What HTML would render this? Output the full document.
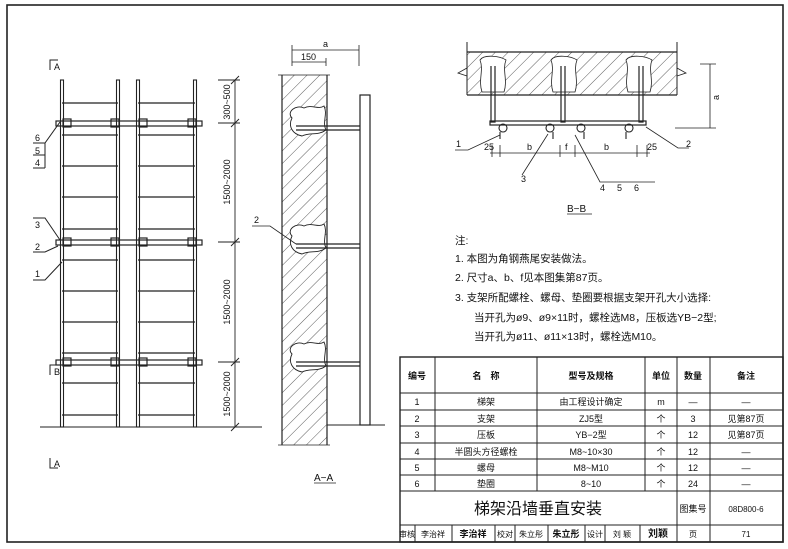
<!DOCTYPE html>
<html><head><meta charset="utf-8"><style>
html,body{margin:0;padding:0;background:#fff;}
svg{display:block;}
text{font-family:"Liberation Sans","Noto Sans CJK SC",sans-serif;fill:#111;}
</style></head><body>
<svg width="788" height="549" viewBox="0 0 788 549" xmlns="http://www.w3.org/2000/svg">
<defs>
<pattern id="h" width="9" height="9" patternUnits="userSpaceOnUse" patternTransform="rotate(45)">
<line x1="0" y1="0" x2="0" y2="9" stroke="#333" stroke-width="0.8"/>
</pattern>
</defs>
<rect x="7" y="5" width="776" height="537" fill="none" stroke="#222" stroke-width="1.6"/>

<!-- Left elevation -->
<g stroke="#222" fill="none">
<g stroke-width="1.1">
<rect x="60.5" y="80" width="3" height="347"/><rect x="116.5" y="80" width="3" height="347"/>
<rect x="136.5" y="80" width="3" height="347"/><rect x="193.5" y="80" width="3" height="347"/>
</g>
<g stroke-width="1.3">
<path d="M62 103H118M62 135H118M62 166H118M62 197H118M62 229H118M62 260H118M62 291H118M62 322H118M62 353H118M62 383H118M62 415H118"/>
<path d="M138 103H195M138 135H195M138 166H195M138 197H195M138 229H195M138 260H195M138 291H195M138 322H195M138 353H195M138 383H195M138 415H195"/>
</g>
<g stroke-width="1.2">
<rect x="56" y="121" width="146" height="5"/><rect x="56" y="240" width="146" height="5"/><rect x="56" y="360" width="146" height="5"/>
<rect x="63" y="119" width="8" height="8"/><rect x="111" y="119" width="8" height="8"/><rect x="139" y="119" width="8" height="8"/><rect x="188" y="119" width="8" height="8"/>
<rect x="63" y="238" width="8" height="8"/><rect x="111" y="238" width="8" height="8"/><rect x="139" y="238" width="8" height="8"/><rect x="188" y="238" width="8" height="8"/>
<rect x="63" y="358" width="8" height="8"/><rect x="111" y="358" width="8" height="8"/><rect x="139" y="358" width="8" height="8"/><rect x="188" y="358" width="8" height="8"/>
</g>
<line x1="40" y1="427" x2="262" y2="427" stroke-width="1"/>
<g stroke-width="0.9">
<line x1="235" y1="80" x2="235" y2="427"/>
<path d="M218 80H240M218 123H240M218 242H240M218 362H240M218 427H240"/>
<path d="M231 84L239 76M231 127L239 119M231 246L239 238M231 366L239 358M231 431L239 423"/>
</g>
<g stroke-width="1">
<path d="M50 70V60H58M50 375V365H58M50 458V468H58"/>
<path d="M33 143H45L60 122M33 155H45M33 168H45M45 143V168"/>
<path d="M33 218H45L60 240M33 252H45L58 246M33 280H45L62 262"/>
</g>
</g>
<g font-size="9">
<text x="54" y="70">A</text><text x="54" y="375">B</text><text x="54" y="467">A</text>
<text x="35" y="141">6</text><text x="35" y="154">5</text><text x="35" y="166">4</text>
<text x="35" y="228">3</text><text x="35" y="250">2</text><text x="35" y="277">1</text>
<text transform="translate(230,102) rotate(-90)" text-anchor="middle">300~500</text>
<text transform="translate(230,182) rotate(-90)" text-anchor="middle">1500~2000</text>
<text transform="translate(230,302) rotate(-90)" text-anchor="middle">1500~2000</text>
<text transform="translate(230,394) rotate(-90)" text-anchor="middle">1500~2000</text>
</g>

<!-- A-A section -->
<g stroke="#222" fill="none">
<rect x="282" y="75" width="45" height="370" fill="url(#h)" stroke="none"/>
<line x1="282" y1="75" x2="282" y2="445" stroke-width="1.2"/><line x1="327" y1="75" x2="327" y2="445" stroke-width="1.2"/>
<path d="M278 75H330M278 445H330" stroke-width="0.8"/>
<g fill="#fff" stroke-width="0.9">
<path d="M292 118C286 112 296 104 304 108C312 104 318 110 324 106C328 114 322 122 326 130C318 136 310 132 302 136C292 134 288 126 292 118Z"/>
<path d="M292 236C286 230 296 222 304 226C312 222 318 228 324 224C328 232 322 240 326 248C318 254 310 250 302 254C292 252 288 244 292 236Z"/>
<path d="M292 354C286 348 296 340 304 344C312 340 318 346 324 342C328 350 322 358 326 366C318 372 310 368 302 372C292 370 288 362 292 354Z"/>
</g>
<rect x="360" y="95" width="10" height="330" stroke-width="1.2"/>
<g stroke-width="1.3"><path d="M296 126H360M296 130H360M296 244H360M296 248H360M296 362H360M296 366H360"/></g>
<path d="M327 425H385" stroke-width="0.9"/>
<g stroke-width="0.8">
<path d="M292 45V66M359 45V66M292 50H359M326 58V66M292 62H326"/>
<path d="M252 226H270L296 244"/>
<path d="M314 483H336"/>
</g>
</g>
<g font-size="9">
<text x="323" y="47">a</text><text x="301" y="60">150</text><text x="254" y="223">2</text>
<text x="314" y="481" font-size="10">A−A</text>
</g>

<!-- B-B section -->
<g stroke="#222" fill="none">
<rect x="467" y="52" width="210" height="43" fill="url(#h)" stroke="none"/>
<path d="M467 42V95M677 42V95" stroke-width="1"/>
<path d="M467 52H677M467 95H677" stroke-width="1.2"/>
<path d="M467 68L458 73L467 76M677 68L686 73L677 76" stroke-width="0.8"/>
<g fill="#fff" stroke-width="0.8">
<path d="M480 60C484 54 500 56 506 60C502 70 508 80 504 92H482C478 80 484 70 480 60Z"/>
<path d="M551 60C555 54 571 56 577 60C573 70 579 80 575 92H553C549 80 555 70 551 60Z"/>
<path d="M626 60C630 54 646 56 652 60C648 70 654 80 650 92H628C624 80 630 70 626 60Z"/>
</g>
<g stroke-width="1.2"><path d="M491 66V122H495V66M561 66V122H565V66M639 66V122H643V66"/></g>
<rect x="490" y="121" width="156" height="4" stroke-width="1.2"/>
<g stroke-width="1.1">
<circle cx="503" cy="128" r="4"/><circle cx="550" cy="128" r="4"/><circle cx="581" cy="128" r="4"/><circle cx="629" cy="128" r="4"/>
<path d="M500 132v7M553 132v7M584 132v7M626 132v7"/>
</g>
<g stroke-width="0.8">
<path d="M710 64V128M700 64H716M675 128H716"/>
<path d="M490 153H650M492 145V157M500 145V157M560 145V157M575 145V157M637 145V157M647 145V157"/>
<path d="M455 150H468L500 135M522 175L548 134M575 135L600 182H655M689 148H678L646 127"/>
<path d="M567 214H592"/>
</g>
</g>
<g font-size="9">
<text x="713" y="100" transform="rotate(-90 716 97)">a</text>
<text x="484" y="150">25</text><text x="527" y="150">b</text><text x="565" y="150">f</text><text x="604" y="150">b</text><text x="647" y="150">25</text>
<text x="456" y="147">1</text><text x="521" y="182">3</text><text x="686" y="147">2</text>
<text x="600" y="191">4</text><text x="617" y="191">5</text><text x="634" y="191">6</text>
<text x="567" y="212" font-size="10">B−B</text>
</g>

<!-- Notes -->
<g font-size="10.5">
<text x="455" y="244">注:</text>
<text x="455" y="262">1. 本图为角钢燕尾安装做法。</text>
<text x="455" y="281">2. 尺寸a、b、f见本图集第87页。</text>
<text x="455" y="301">3. 支架所配螺栓、螺母、垫圈要根据支架开孔大小选择:</text>
<text x="474" y="321">当开孔为ø9、ø9×11时，螺栓选M8，压板选YB−2型;</text>
<text x="474" y="340">当开孔为ø11、ø11×13时，螺栓选M10。</text>
</g>

<!-- Table -->
<g stroke="#222" fill="none" stroke-width="1">
<rect x="400" y="357" width="383" height="185" stroke-width="1.4"/>
<path d="M400 393H783M400 410H783M400 426H783M400 443H783M400 459H783M400 475H783M400 491H783M400 525H783"/>
<path d="M435 357V491M537 357V491M645 357V491M677 357V542M710 357V542"/>
<path d="M415 525V542M452 525V542M495 525V542M515 525V542M548 525V542M585 525V542M605 525V542M640 525V542"/>
</g>
<g font-size="9" text-anchor="middle">
<text x="417" y="379" font-weight="bold">编号</text><text x="486" y="379" font-weight="bold">名　称</text><text x="591" y="379" font-weight="bold">型号及规格</text><text x="661" y="379" font-weight="bold">单位</text><text x="693" y="379" font-weight="bold">数量</text><text x="746" y="379" font-weight="bold">备注</text>
<text x="417" y="405">1</text><text x="486" y="405">梯架</text><text x="591" y="405">由工程设计确定</text><text x="661" y="405">m</text><text x="693" y="405">—</text><text x="746" y="405">—</text>
<text x="417" y="422">2</text><text x="486" y="422">支架</text><text x="591" y="422">ZJ5型</text><text x="661" y="422">个</text><text x="693" y="422">3</text><text x="746" y="422">见第87页</text>
<text x="417" y="438">3</text><text x="486" y="438">压板</text><text x="591" y="438">YB−2型</text><text x="661" y="438">个</text><text x="693" y="438">12</text><text x="746" y="438">见第87页</text>
<text x="417" y="455">4</text><text x="486" y="455">半圆头方径螺栓</text><text x="591" y="455">M8~10×30</text><text x="661" y="455">个</text><text x="693" y="455">12</text><text x="746" y="455">—</text>
<text x="417" y="471">5</text><text x="486" y="471">螺母</text><text x="591" y="471">M8~M10</text><text x="661" y="471">个</text><text x="693" y="471">12</text><text x="746" y="471">—</text>
<text x="417" y="487">6</text><text x="486" y="487">垫圈</text><text x="591" y="487">8~10</text><text x="661" y="487">个</text><text x="693" y="487">24</text><text x="746" y="487">—</text>
<text x="538" y="514" font-size="16">梯架沿墙垂直安装</text>
<text x="693" y="512">图集号</text><text x="746" y="512" font-size="8">08D800-6</text>
<text x="407" y="537" font-size="8">审核</text><text x="433" y="537" font-size="8">李治祥</text><text x="473" y="537" font-size="9" font-weight="bold">李治祥</text>
<text x="505" y="537" font-size="8">校对</text><text x="531" y="537" font-size="8">朱立彤</text><text x="566" y="537" font-size="9" font-weight="bold">朱立彤</text>
<text x="595" y="537" font-size="8">设计</text><text x="622" y="537" font-size="8">刘 颖</text><text x="658" y="537" font-size="10" font-weight="bold">刘颖</text>
<text x="693" y="537" font-size="8">页</text><text x="746" y="537" font-size="8">71</text>
</g>
</svg>
</body></html>
